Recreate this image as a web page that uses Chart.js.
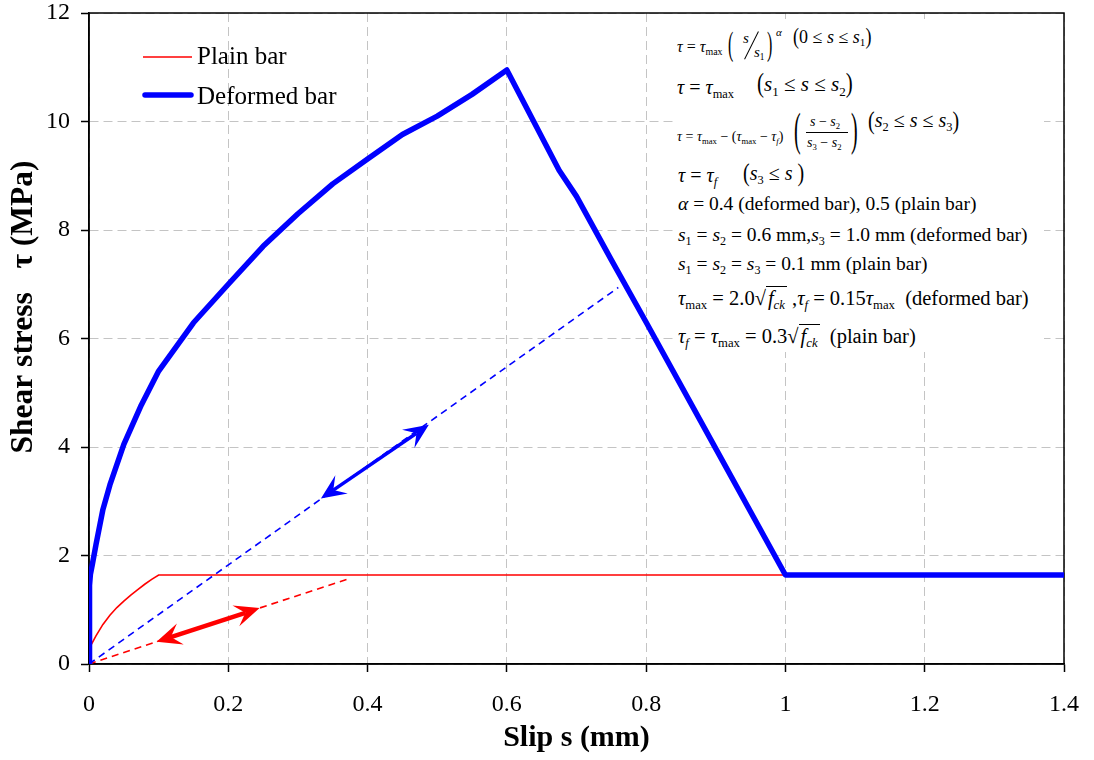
<!DOCTYPE html>
<html><head><meta charset="utf-8">
<script src="https://cdn.jsdelivr.net/npm/chart.js@4.4.1/dist/chart.umd.min.js"></script>
<style>
html,body{margin:0;padding:0;background:#fff;}
#wrap{position:relative;width:1094px;height:760px;overflow:hidden;}
#c{position:absolute;left:0;top:0;}
#eqbox{position:absolute;left:676px;top:19px;width:368px;height:333px;background:#fff;}
.t{position:absolute;white-space:nowrap;line-height:1;font-family:'Liberation Serif','Times New Roman',serif;color:#000;}
.t i{font-style:italic;}
.sb{font-size:0.62em;position:relative;top:0.32em;}
.bp{display:inline-block;transform:scaleY(1.3);transform-origin:50% 60%;}
.ov{border-top:1px solid #000;padding:0 2px;}
.rule{position:absolute;background:#000;}
</style></head><body>
<div id="wrap"><canvas id="c" width="1094" height="760"></canvas><div id="eqbox"></div><div id="eq"></div></div>
<script>
// ---- data ----
const xTickLabels = ['0','0.2','0.4','0.6','0.8','1','1.2','1.4'];
const yTickLabels = ['0','2','4','6','8','10','12'];

const plainSlip = [0,0.001,0.002,0.005,0.01,0.02,0.03,0.04,0.05,0.06,0.07,0.08,0.09,0.1,1.0,1.4];
const plainTau  = [0,0.30,0.33,0.40,0.52,0.73,0.90,1.04,1.16,1.27,1.37,1.47,1.56,1.64,1.64,1.64];

const deformedSlip = [0,0.0005,0.001,0.002,0.005,0.01,0.02,0.03,0.05,0.075,0.1,0.15,0.2,0.25,0.3,0.35,0.4,0.45,0.5,0.55,0.6,0.675,0.7,0.75,0.8,0.9,1.0,1.4];
const deformedTau  = [0,1.20,1.45,1.65,1.85,2.20,2.85,3.30,4.05,4.77,5.40,6.29,7.00,7.70,8.30,8.85,9.31,9.76,10.10,10.50,10.95,9.10,8.62,7.45,6.30,3.97,1.64,1.64];

const blueDashSlip = [0,0.76];
const blueDashTau  = [0,6.94];
const redDashSlip  = [0,0.375];
const redDashTau   = [0,1.58];

const blueArrowSlip = [0.333,0.488];
const blueArrowTau  = [3.05,4.41];
const redArrowSlip  = [0.097,0.245];
const redArrowTau   = [0.41,1.03];

const legendLabels = ['Plain bar','Deformed bar'];

// ---- build ----
const pts = (xs, ys) => xs.map((x, i) => ({x: x, y: ys[i]}));
const FONT = "'Liberation Serif','Times New Roman',serif";

const arrowPlugin = {
  id: 'arrows',
  afterDatasetsDraw(chart) {
    const {ctx, scales: {x, y}} = chart;
    function drawArrow(s, t, color, width) {
      const x1 = x.getPixelForValue(s[0]), y1 = y.getPixelForValue(t[0]);
      const x2 = x.getPixelForValue(s[1]), y2 = y.getPixelForValue(t[1]);
      const ang = Math.atan2(y2 - y1, x2 - x1);
      const L = 25, W = 11, N = 15;
      const ux = Math.cos(ang), uy = Math.sin(ang);
      ctx.save();
      ctx.setLineDash([]);
      ctx.strokeStyle = color; ctx.fillStyle = color; ctx.lineWidth = width;
      ctx.beginPath();
      ctx.moveTo(x1 + ux * N, y1 + uy * N);
      ctx.lineTo(x2 - ux * N, y2 - uy * N);
      ctx.stroke();
      function head(tx, ty, a) {
        const cx = Math.cos(a), cy = Math.sin(a);
        const bx = tx - cx * L, by = ty - cy * L;
        ctx.beginPath();
        ctx.moveTo(tx, ty);
        ctx.lineTo(bx - cy * W, by + cx * W);
        ctx.lineTo(tx - cx * N, ty - cy * N);
        ctx.lineTo(bx + cy * W, by - cx * W);
        ctx.closePath();
        ctx.fill();
      }
      head(x2, y2, ang);
      head(x1, y1, ang + Math.PI);
      ctx.restore();
    }
    drawArrow(blueArrowSlip, blueArrowTau, '#0000ff', 3.5);
    drawArrow(redArrowSlip, redArrowTau, '#ff0000', 4.5);
  }
};

const framePlugin = {
  id: 'frame',
  beforeDatasetsDraw(chart) {
    const {ctx, chartArea: a} = chart;
    ctx.save();
    ctx.strokeStyle = '#000'; ctx.lineWidth = 1.5; ctx.setLineDash([]);
    ctx.strokeRect(a.left, a.top, a.right - a.left, a.bottom - a.top);
    ctx.restore();
  },
  afterDraw(chart) {
    const {ctx} = chart;
    ctx.save();
    ctx.setLineDash([]);
    ctx.lineCap = 'butt';
    ctx.strokeStyle = '#ff0000'; ctx.lineWidth = 1.5;
    ctx.beginPath(); ctx.moveTo(143, 57); ctx.lineTo(192, 57); ctx.stroke();
    ctx.strokeStyle = '#0000ff'; ctx.lineWidth = 5.5; ctx.lineCap = 'round';
    ctx.beginPath(); ctx.moveTo(145, 95); ctx.lineTo(191, 95); ctx.stroke();
    ctx.fillStyle = '#000';
    ctx.font = '25px ' + FONT;
    ctx.textBaseline = 'alphabetic';
    ctx.textAlign = 'left';
    ctx.fillText(legendLabels[0], 197, 64);
    ctx.fillText(legendLabels[1], 197, 104);
    ctx.restore();
  }
};

new Chart(document.getElementById('c'), {
  type: 'scatter',
  data: {
    datasets: [
      {label: legendLabels[1], data: pts(deformedSlip, deformedTau), showLine: true, borderColor: '#0000ff', borderWidth: 5.5, pointRadius: 0, order: 0, borderJoinStyle: 'round', borderCapStyle: 'butt'},
      {label: legendLabels[0], data: pts(plainSlip, plainTau), showLine: true, borderColor: '#ff0000', borderWidth: 1.6, pointRadius: 0, order: 1},
      {label: 'dashed deformed', data: pts(blueDashSlip, blueDashTau), showLine: true, borderColor: '#0000ff', borderWidth: 1.6, borderDash: [7, 5], pointRadius: 0, order: 2},
      {label: 'dashed plain', data: pts(redDashSlip, redDashTau), showLine: true, borderColor: '#ff0000', borderWidth: 1.6, borderDash: [7, 5], pointRadius: 0, order: 3}
    ]
  },
  options: {
    responsive: false,
    devicePixelRatio: 1,
    animation: false,
    layout: {padding: {left: 0, right: 30, top: 13, bottom: 0}},
    plugins: {legend: {display: false}, tooltip: {enabled: false}},
    scales: {
      x: {
        type: 'linear', min: 0, max: 1.4,
        afterFit(s) { s.height = 96; s.paddingLeft = 0; s.paddingRight = 0; },
        ticks: {stepSize: 0.2, color: '#000', padding: 21, font: {family: FONT, size: 24, lineHeight: 1}, callback: (v, i) => xTickLabels[i]},
        grid: {color: '#c4c4c4', lineWidth: 1, tickColor: '#000', tickLength: 8, tickWidth: 1.5},
        border: {display: true, color: '#000', width: 1.5, dash: [9, 5]},
        title: {display: true, text: 'Slip s (mm)', color: '#000', font: {family: FONT, size: 30, weight: 'bold', lineHeight: 1.2}, padding: {top: 0, bottom: 4}}
      },
      y: {
        type: 'linear', min: 0, max: 12,
        afterFit(s) { s.width = 89; s.paddingTop = 0; s.paddingBottom = 0; },
        ticks: {stepSize: 2, color: '#000', padding: 11, font: {family: FONT, size: 24, lineHeight: 1}, callback: (v, i) => yTickLabels[i]},
        grid: {color: '#c4c4c4', lineWidth: 1, tickColor: '#000', tickLength: 8, tickWidth: 1.5},
        border: {display: true, color: '#000', width: 1.5, dash: [9, 5]},
        title: {display: true, text: '        Shear stress   τ (MPa)', color: '#000', font: {family: FONT, size: 31.5, weight: 'bold', lineHeight: 1.2}, padding: {top: 5, bottom: 0}}
      }
    }
  },
  plugins: [arrowPlugin, framePlugin]
});

// ---- equation block (text) ----
const eq = document.getElementById('eq');
function put(html, x, base, size, extra) {
  const s = document.createElement('span');
  s.className = 't';
  s.innerHTML = html;
  s.style.left = x + 'px';
  s.style.top = (base - 0.8375 * size) + 'px';
  s.style.fontSize = size + 'px';
  if (extra) s.style.cssText += ';' + extra;
  eq.appendChild(s);
}
function rule(x, y, w, h, rot) {
  const d = document.createElement('div');
  d.className = 'rule';
  d.style.left = x + 'px'; d.style.top = y + 'px';
  d.style.width = w + 'px'; d.style.height = h + 'px';
  if (rot) d.style.transform = 'rotate(' + rot + 'deg)';
  eq.appendChild(d);
}
const big = 'transform:scaleY(2.1);transform-origin:50% 59%';
// line 1
put('<i>τ</i> = <i>τ</i><span class="sb">max</span>', 677, 52, 16);
put('(', 728, 51.5, 16, big);
put('<i>s</i>', 743, 44, 15);
rule(751, 30, 1.2, 31, 26.6);
put('<i>s</i><span class="sb">1</span>', 754, 58, 15);
put(')', 767, 51.5, 16, big);
put('<i>α</i>', 776, 36, 11);
put('<span class="bp">(</span>0 ≤ <i>s</i> ≤ <i>s</i><span class="sb">1</span><span class="bp">)</span>', 793, 43, 18);
// line 2
put('<i>τ</i> = <i>τ</i><span class="sb">max</span>', 677, 94, 20);
put('<span class="bp">(</span><i>s</i><span class="sb">1</span> ≤ <i>s</i> ≤ <i>s</i><span class="sb">2</span><span class="bp">)</span>', 757, 92, 21);
// line 3
put('<i>τ</i> = <i>τ</i><span class="sb">max</span> − (<i>τ</i><span class="sb">max</span> − <i>τ</i><span class="sb"><i>f</i></span>)', 677, 142, 14);
put('(', 794, 137.5, 20, 'transform:scaleY(2.3);transform-origin:50% 59%');
put('<i>s</i> − <i>s</i><span class="sb">2</span>', 810, 127, 14);
rule(806, 132, 42, 1);
put('<i>s</i><span class="sb">3</span> − <i>s</i><span class="sb">2</span>', 807, 148, 14);
put(')', 851, 137.5, 20, 'transform:scaleY(2.3);transform-origin:50% 59%');
put('<span class="bp">(</span><i>s</i><span class="sb">2</span> ≤ <i>s</i> ≤ <i>s</i><span class="sb">3</span><span class="bp">)</span>', 868, 127, 20);
// line 4
put('<i>τ</i> = <i>τ</i><span class="sb"><i>f</i></span>', 678, 182, 20);
put('<span class="bp">(</span><i>s</i><span class="sb">3</span> ≤ <i>s</i> <span class="bp">)</span>', 743, 180, 20);
// lines 5-9
put('<i>α</i> = 0.4 (deformed bar), 0.5 (plain bar)', 678, 210, 19.5);
put('<i>s</i><span class="sb">1</span> = <i>s</i><span class="sb">2</span> = 0.6 mm,<i>s</i><span class="sb">3</span> = 1.0 mm (deformed bar)', 678, 241, 19.5);
put('<i>s</i><span class="sb">1</span> = <i>s</i><span class="sb">2</span> = <i>s</i><span class="sb">3</span> = 0.1 mm (plain bar)', 678, 270.5, 19.5);
put('<i>τ</i><span class="sb">max</span> = 2.0√<span class="ov"><i>f</i><span class="sb"><i>ck</i></span></span> ,<i>τ</i><span class="sb"><i>f</i></span> = 0.15<i>τ</i><span class="sb">max</span>&nbsp; (deformed bar)', 678, 305, 20.5);
put('<i>τ</i><span class="sb"><i>f</i></span> = <i>τ</i><span class="sb">max</span> = 0.3√<span class="ov"><i>f</i><span class="sb"><i>ck</i></span></span>&nbsp; (plain bar)', 678, 343, 20.5);
</script>
</body></html>
